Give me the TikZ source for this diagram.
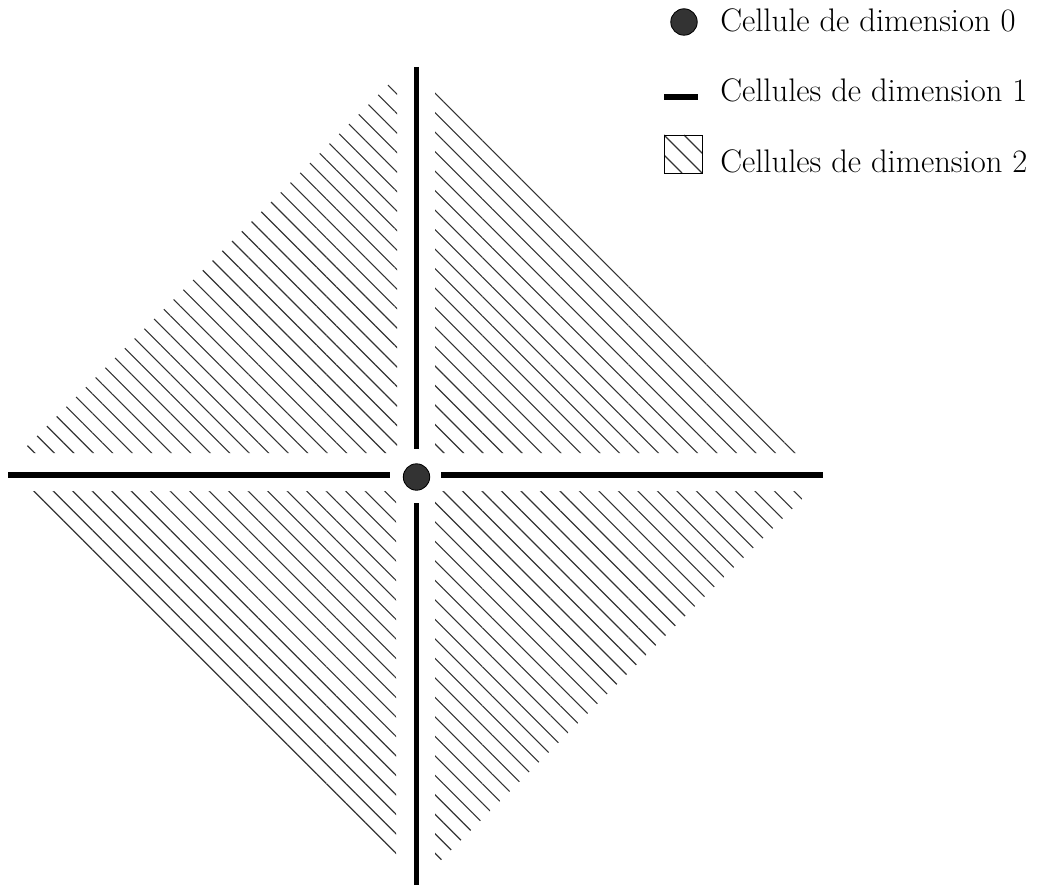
\documentclass[tikz,border=0pt]{standalone}
\usepackage{fontspec}
\usetikzlibrary{patterns.meta}
\begin{document}
\begin{tikzpicture}[x=0.025cm,y=-0.025cm,
  cellzero/.style={circle,draw=black,fill=black!80,line width=0.6pt,minimum size=0.66cm,inner sep=0pt},
  cellone/.style={line width=3.6pt},
  celltwo/.style={pattern={Lines[angle=-45,distance=9.8pt,line width=0.8pt]},pattern color=black!80},
  legsq/.style={draw=black,line width=0.6pt,minimum size=0.95cm,inner sep=0pt,
    path picture={
      \draw[black!80,line width=0.8pt] (path picture bounding box.north west) -- (path picture bounding box.south east);
      \draw[black!80,line width=0.8pt] ([xshift=0.5cm]path picture bounding box.north west) -- ([xshift=0.5cm]path picture bounding box.south east);
      \draw[black!80,line width=0.8pt] ([xshift=-0.5cm]path picture bounding box.north west) -- ([xshift=-0.5cm]path picture bounding box.south east);
    }},
  lab/.style={anchor=base west,inner sep=0pt,font=\fontsize{23.2}{28}\selectfont}]
\useasboundingbox (0,0) rectangle (1052,886);
% 2-cells
\fill[celltwo] (397,453) -- (397,76) -- (20,453) -- cycle;
\fill[celltwo] (435,453) -- (435,78) -- (810,453) -- cycle;
\fill[celltwo] (396,491) -- (17,491) -- (396,870) -- cycle;
\fill[celltwo] (435,491) -- (810,491) -- (435,866) -- cycle;
% 0-cell
\node[cellzero] (c) at (416.5,477) {};
% 1-cells
\coordinate (vt1) at (416.5,67);  \coordinate (vt2) at (416.5,449);
\coordinate (vb1) at (416.5,503); \coordinate (vb2) at (416.5,885);
\coordinate (hl1) at (8,475);     \coordinate (hl2) at (390,475);
\coordinate (hr1) at (441,475);   \coordinate (hr2) at (823,475);
\draw[cellone] (vt1) -- (vt2);
\draw[cellone] (vb1) -- (vb2);
\draw[cellone] (hl1) -- (hl2);
\draw[cellone] (hr1) -- (hr2);
% legend
\node[cellzero] (l0) at (684,22) {};
\node[lab] (t0) at (720,32) {Cellule de dimension 0};
\coordinate (l1a) at (664,97); \coordinate (l1b) at (698,97);
\draw[cellone] (l1a) -- (l1b);
\node[lab] (t1) at (720,102) {Cellules de dimension 1};
\node[legsq] (l2) at (683,154) {};
\node[lab] (t2) at (720,173) {Cellules de dimension 2};
\end{tikzpicture}
\end{document}
